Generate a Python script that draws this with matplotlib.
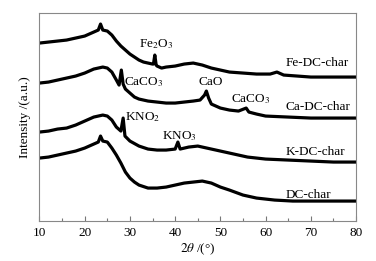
import matplotlib
matplotlib.use('Agg')
import matplotlib.pyplot as plt
import numpy as np

plt.rcParams['font.family'] = ['Liberation Serif', 'DejaVu Serif']
plt.rcParams['mathtext.fontset'] = 'stix'

# XRD patterns (intensity in a.u., curves already offset)
fe_x = [10, 12, 14, 16, 18, 20, 22, 23, 23.5, 24, 25, 26, 27, 28, 29, 30, 31, 32, 33, 34, 35,
        35.2, 35.5, 35.8, 36, 37, 38, 40, 42, 44, 46, 48, 50, 52, 55, 58, 61, 62.5, 64, 67, 70, 75, 80]
fe_y = [178, 179, 180, 181, 183, 185, 189, 191, 197, 191, 190, 186, 180, 175, 171, 167, 164, 161, 159, 158, 157,
        157, 166, 156, 155, 153, 154, 155, 157, 158, 156, 153, 151, 149, 148, 147, 147, 149, 146, 145, 144, 144, 144]

ca_x = [10, 12, 14, 16, 18, 20, 22, 24, 25, 26, 27, 27.6, 28.1, 28.5, 29, 30, 31, 32, 34, 36, 38, 40, 42, 44,
        45.5, 46.5, 46.9, 47.4, 48, 50, 52, 54, 55.7, 56.3, 58, 60, 65, 70, 75, 80]
ca_y = [138, 139, 141, 143, 145, 148, 152, 154, 153, 149, 141, 136, 151, 137, 132, 128, 124, 122, 120, 119, 118, 118, 119, 120,
        121, 126, 130, 123, 117, 113, 111, 110, 113, 109, 107, 105, 104, 103, 103, 103]

k_x = [10, 12, 14, 16, 18, 20, 22, 24, 25, 26, 27, 28, 28.5, 28.9, 30, 32, 34, 36, 38, 40, 40.6, 41.1,
       43, 45, 47, 50, 53, 56, 60, 65, 70, 75, 80]
k_y = [89, 90, 92, 93, 96, 100, 104, 106, 105, 101, 94, 90, 103, 85, 80, 75, 72, 71, 71, 72, 79, 72,
       74, 75, 73, 70, 67, 64, 62, 61, 60, 59, 59]

dc_x = [10, 12, 14, 16, 18, 20, 22, 23, 23.5, 24, 25, 26, 27, 28, 29, 30, 31, 32, 34, 36, 38, 40, 42, 44,
        46, 48, 50, 52, 55, 58, 62, 66, 70, 75, 80]
dc_y = [63, 64, 66, 68, 70, 73, 77, 79, 85, 80, 79, 73, 66, 58, 49, 43, 39, 36, 33, 33, 34, 36, 38, 39,
        40, 38, 34, 31, 26, 23, 21, 20, 20, 20, 20]

curve_labels = ['Fe-DC-char', 'Ca-DC-char', 'K-DC-char', 'DC-char']
label_y = [158, 114, 69, 26]

fig = plt.figure(figsize=(3.76, 2.61), dpi=100)
ax = fig.add_axes([0.105, 0.153, 0.842, 0.797])

for xs, ys in [(fe_x, fe_y), (ca_x, ca_y), (k_x, k_y), (dc_x, dc_y)]:
    ax.plot(xs, ys, color='black', lw=2.3, solid_joinstyle='round')

for name, yy in zip(curve_labels, label_y):
    ax.text(64.5, yy, name, fontsize=9.5, va='center', ha='left')

# phase annotations
fs = 9.5
ax.text(35.8, 177, r'Fe$_2$O$_3$', fontsize=fs, va='center', ha='center')
ax.text(28.6, 139, r'CaCO$_3$', fontsize=fs, va='center', ha='left')
ax.text(47.9, 139, 'CaO', fontsize=fs, va='center', ha='center')
ax.text(56.6, 122, r'CaCO$_3$', fontsize=fs, va='center', ha='center')
ax.text(28.9, 104, r'KNO$_2$', fontsize=fs, va='center', ha='left')
ax.text(41.0, 85, r'KNO$_3$', fontsize=fs, va='center', ha='center')

ax.set_xlim(10, 80)
ax.set_ylim(0, 208)
ax.set_xticks(np.arange(10, 81, 10))
ax.set_xticks(np.arange(15, 80, 10), minor=True)
ax.tick_params(axis='x', which='major', direction='in', length=3.5, width=0.8, labelsize=9.5, pad=4, color='#777777')
ax.tick_params(axis='x', which='minor', direction='in', length=2, width=0.8, color='#777777')
ax.set_yticks([])
for s in ax.spines.values():
    s.set_color('#888888')
    s.set_linewidth(0.8)

ax.set_xlabel(r'$2\theta$ /(°)', fontsize=9.5, labelpad=2)
ax.set_ylabel('Intensity /(a.u.)', fontsize=9.5, labelpad=6)

fig.savefig('out.png', dpi=100)
